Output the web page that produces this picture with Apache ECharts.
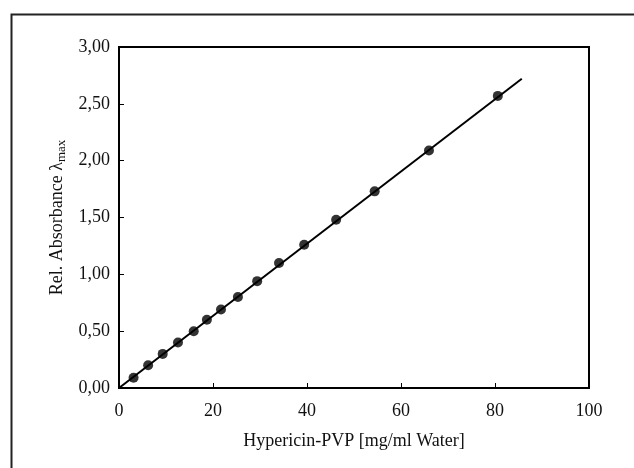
<!DOCTYPE html>
<html>
<head>
<meta charset="utf-8">
<script src="https://cdn.jsdelivr.net/npm/echarts@6/dist/echarts.min.js"></script>
<style>html,body{margin:0;padding:0;background:#fff}#c{width:634px;height:468px}</style>
</head>
<body>
<div id="c"></div>
<script>
const concentration = [3.1, 6.2, 9.3, 12.55, 15.9, 18.7, 21.7, 25.3, 29.4, 34.05, 39.4, 46.2, 54.4, 65.95, 80.6];
const absorbance = [0.09, 0.20, 0.30, 0.40, 0.50, 0.60, 0.69, 0.80, 0.94, 1.10, 1.26, 1.48, 1.73, 2.09, 2.57];
const fitX = [0, 85.7];
const fitY = [0, 2.72];
const xTicks = [0, 20, 40, 60, 80, 100];
const yTicks = ['0,00', '0,50', '1,00', '1,50', '2,00', '2,50', '3,00'];

const font = 'Liberation Serif';
const chart = echarts.init(document.getElementById('c'));
chart.setOption({
  animation: false,
  backgroundColor: '#fff',
  graphic: [{
    type: 'rect', left: 9, top: 12, shape: {x: 0, y: 0, width: 640, height: 470},
    style: {fill: 'none', stroke: '#222', lineWidth: 2}, silent: true
  }],
  grid: {left: 119, top: 47, right: 45, bottom: 80, show: true, borderColor: '#000', borderWidth: 2, backgroundColor: 'transparent'},
  xAxis: {
    type: 'value', min: 0, max: 100, interval: 20,
    name: 'Hypericin-PVP [mg/ml Water]', nameLocation: 'middle', nameGap: 44,
    nameTextStyle: {fontFamily: font, fontSize: 18, color: '#111'},
    axisLine: {show: true, lineStyle: {color: '#000', width: 2}},
    axisTick: {show: true, inside: true, length: 5, lineStyle: {color: '#000', width: 1}},
    axisLabel: {fontFamily: font, fontSize: 18, color: '#111', margin: 14,
      formatter: v => String(xTicks[Math.round(v / 20)])},
    splitLine: {show: false}
  },
  yAxis: {
    type: 'value', min: 0, max: 3, interval: 0.5,
    name: '{a|Rel. Absorbance λ}{s|max}', nameLocation: 'middle', nameGap: 51, nameRotate: 90,
    nameTextStyle: {fontFamily: font, fontSize: 18, color: '#111',
      rich: {a: {fontFamily: font, fontSize: 18, color: '#111'}, s: {fontFamily: font, fontSize: 13, color: '#111', padding: [8, 0, 0, 0]}}},
    axisLine: {show: true, lineStyle: {color: '#000', width: 2}},
    axisTick: {show: true, inside: true, length: 5, lineStyle: {color: '#000', width: 1}},
    axisLabel: {fontFamily: font, fontSize: 18, color: '#111', margin: 9,
      formatter: v => yTicks[Math.round(v / 0.5)]},
    splitLine: {show: false}
  },
  series: [{
    type: 'line', data: fitX.map((x, i) => [x, fitY[i]]), showSymbol: false, symbol: 'none',
    lineStyle: {color: '#000', width: 2}, z: 2
  }, {
    type: 'scatter', data: concentration.map((x, i) => [x, absorbance[i]]),
    symbol: 'circle', symbolSize: 10, itemStyle: {color: '#000'}, z: 3
  }]
});
</script>
</body>
</html>
